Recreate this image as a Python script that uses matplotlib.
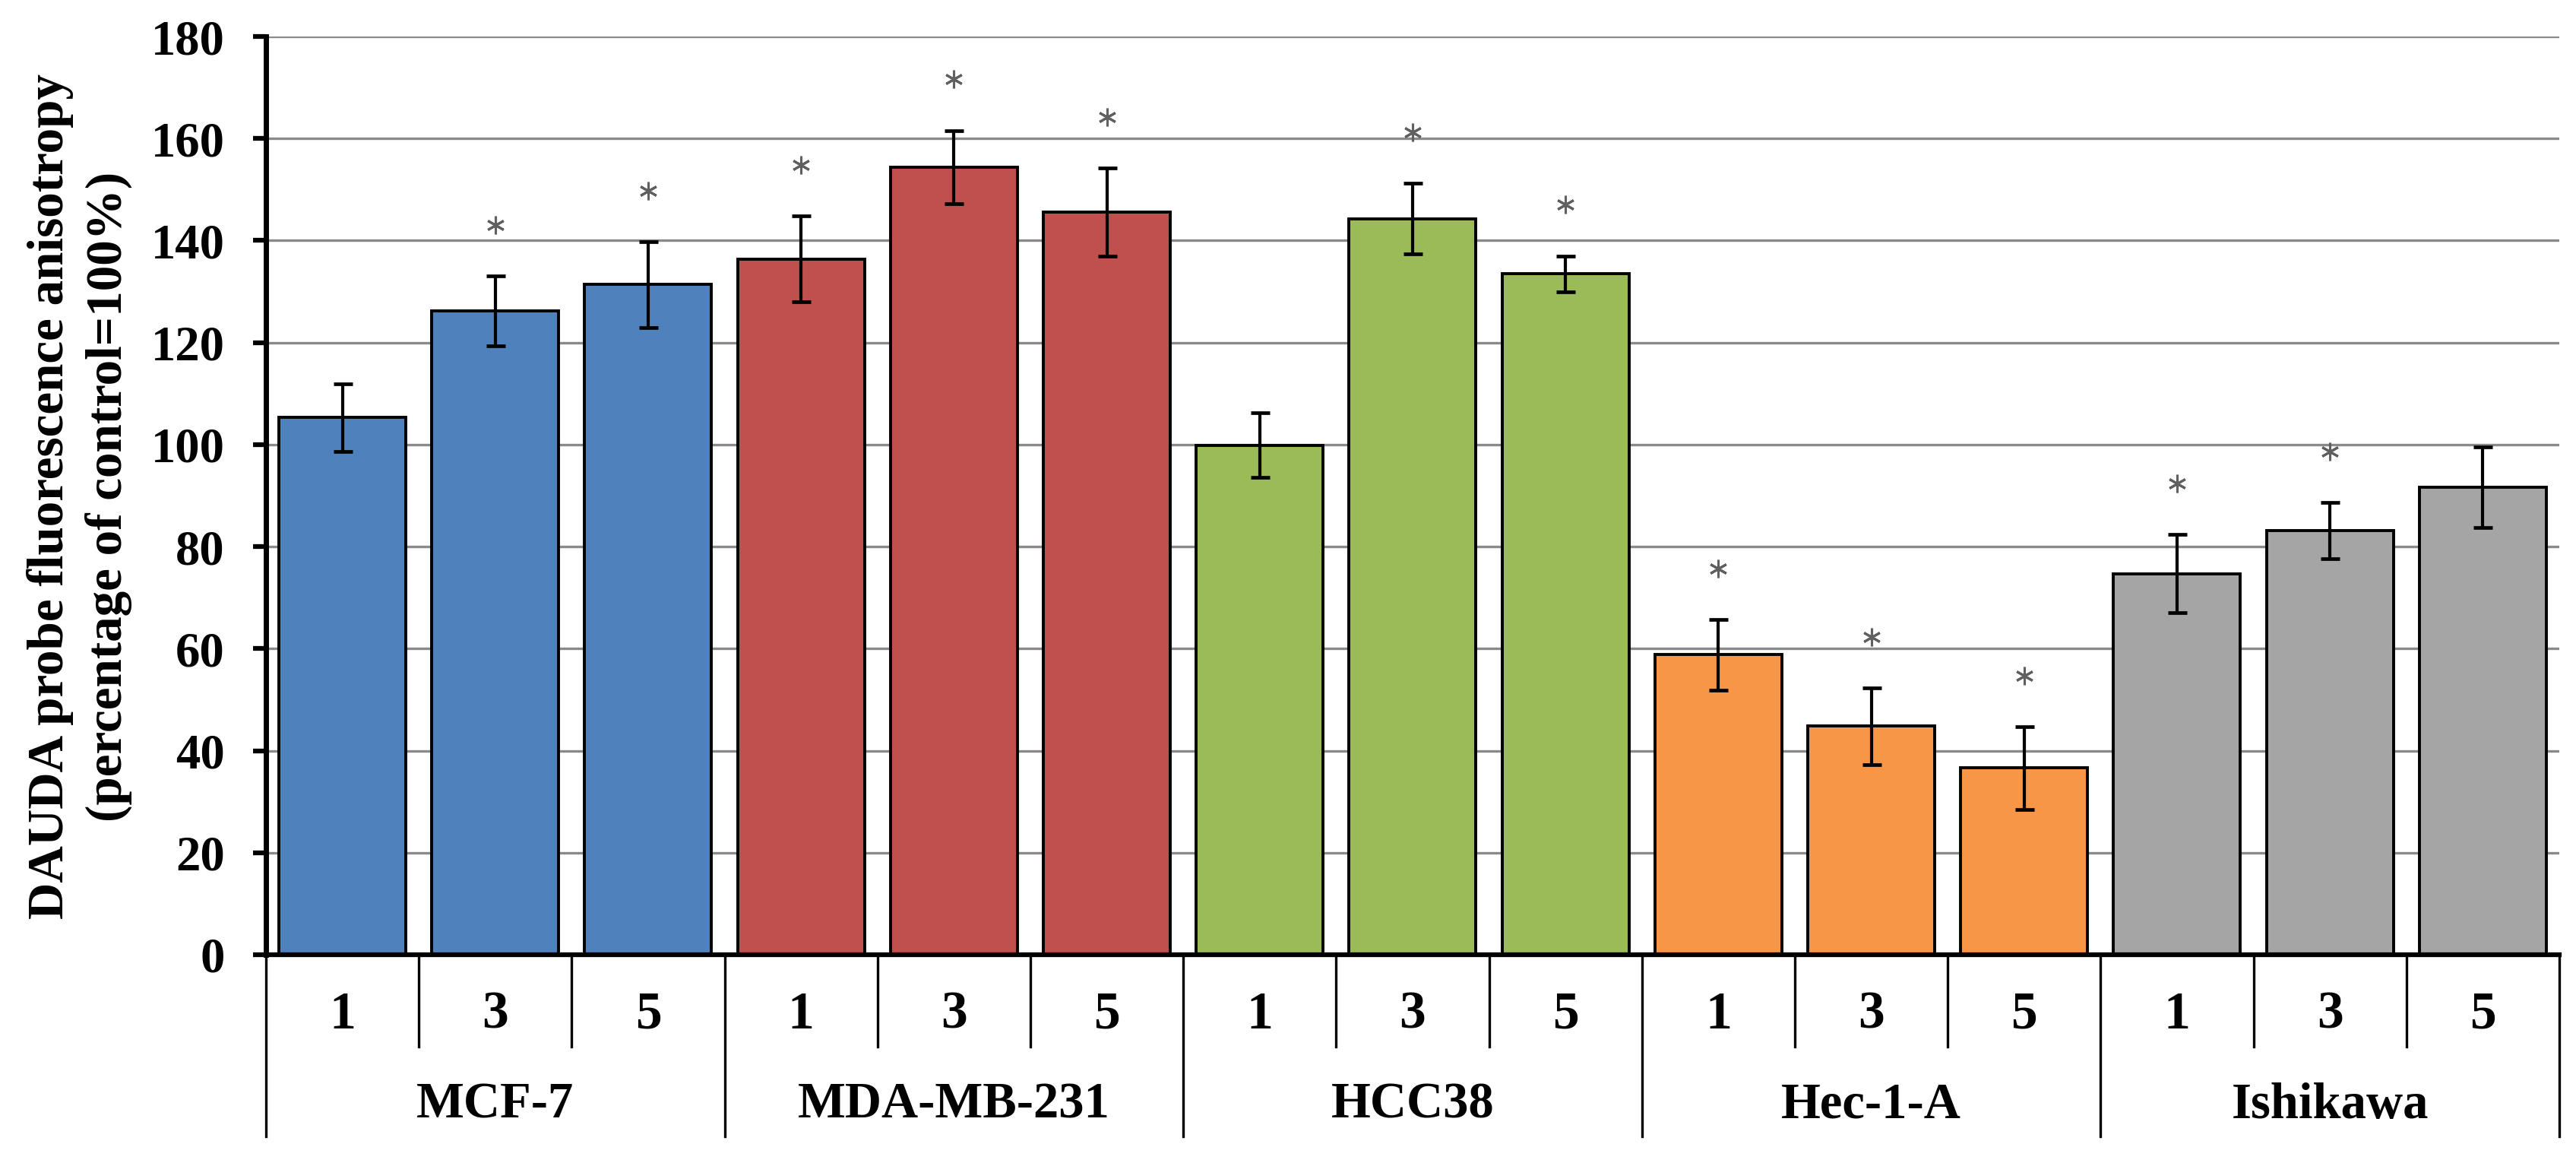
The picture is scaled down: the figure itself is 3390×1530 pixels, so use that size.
import matplotlib
matplotlib.use("Agg")
import matplotlib.pyplot as plt
import numpy as np

plt.rcParams['font.family'] = ['Liberation Serif', 'DejaVu Serif']
plt.rcParams['font.weight'] = 'bold'

# data
groups = ["MCF-7", "MDA-MB-231", "HCC38", "Hec-1-A", "Ishikawa"]
doses = ["1", "3", "5"]
mcf7 = [105.3, 126.2, 131.4]
mda = [136.4, 154.4, 145.6]
hcc38 = [99.9, 144.3, 133.5]
hec = [58.8, 44.8, 36.6]
ishikawa = [74.7, 83.2, 91.6]
mcf7_err = [6.6, 6.9, 8.4]
mda_err = [8.4, 7.2, 8.6]
hcc38_err = [6.3, 6.9, 3.5]
hec_err = [6.9, 7.5, 8.1]
ishikawa_err = [7.7, 5.5, 7.9]
# 1 = marked with asterisk
signif = [0, 1, 1, 1, 1, 1, 0, 1, 1, 1, 1, 1, 1, 1, 0]

colors = ["#4F81BD", "#C0504D", "#9BBB59", "#F79646", "#A5A5A5"]

values = mcf7 + mda + hcc38 + hec + ishikawa
errors = mcf7_err + mda_err + hcc38_err + hec_err + ishikawa_err
bar_colors = [c for c in colors for _ in doses]
x = np.arange(len(values))

fig = plt.figure(figsize=(33.91, 15.30), dpi=100)
ax = fig.add_axes([0.1032, 0.1791, 0.8900, 0.7895])

ax.bar(x, values, width=0.83, color=bar_colors, edgecolor="black",
       linewidth=2.8, zorder=3)
ax.errorbar(x, values, yerr=errors, fmt="none", ecolor="black",
            elinewidth=3.0, capsize=9, capthick=3.4, zorder=4)

# asterisks above the error bars
for xi, v, e, s in zip(x, values, errors, signif):
    if s:
        ax.plot(xi, v + e + 10, marker=(6, 2, 0), ms=17, mew=2.2,
                color="#606060", zorder=5)

ax.set_xlim(-0.5, len(values) - 0.5)
ax.set_ylim(0, 180)
ax.set_yticks(np.arange(0, 181, 20))
ax.yaxis.grid(True, color="#8a8a8a", linewidth=2.4, zorder=0)
ax.tick_params(axis="y", labelsize=46.5, length=12, width=4.5, direction="out", pad=27)
for t in ax.get_yticklabels():
    t.set_fontweight("bold")
ax.set_xticks([])

for s in ["top", "right"]:
    ax.spines[s].set_visible(False)
ax.spines["left"].set_linewidth(5)
ax.spines["bottom"].set_linewidth(4.5)
ax.spines["bottom"].set_zorder(6)

# category axis: dose labels, group labels and dividers
trans = ax.get_xaxis_transform()
n = len(doses)
for i in range(len(values) + 1):
    xb = i - 0.5
    long_line = i % n == 0
    y_end = -0.198 if long_line else -0.100
    ax.plot([xb, xb], [0, y_end], transform=trans, color="black",
            linewidth=2.4, clip_on=False)
for i, xi in enumerate(x):
    ax.text(xi, -0.066, doses[i % n], transform=trans, ha="center",
            va="center", fontsize=50, fontweight="bold")
for g, name in enumerate(groups):
    ax.text(g * n + (n - 1) / 2, -0.164, name, transform=trans,
            ha="center", va="center", fontsize=48, fontweight="bold")

lab1 = fig.text(0.0196, 0.5732, "DAUDA probe fluorescence anisotropy", rotation=90,
                ha="center", va="center", fontsize=46, fontweight="bold")
lab2 = fig.text(0.0422, 0.5732, "(percentage of control=100%)", rotation=90,
                ha="center", va="center", fontsize=46, fontweight="bold")

# scale the y label lines to the lengths seen in the reference
fig.canvas.draw()
r = fig.canvas.get_renderer()
for t, target in [(lab1, 1113), (lab2, 855)]:
    h = t.get_window_extent(r).height
    t.set_fontsize(46 * target / h)

fig.savefig("out.png", dpi=100)
